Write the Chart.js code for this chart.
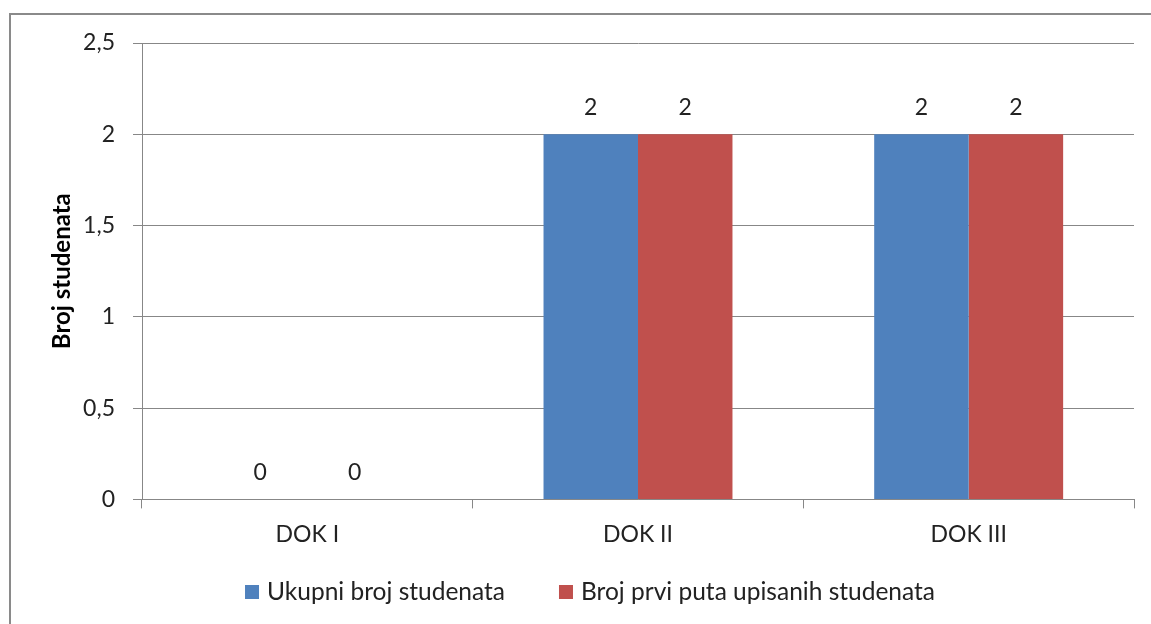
<!DOCTYPE html>
<html>
<head>
<meta charset="utf-8">
<script src="https://cdn.jsdelivr.net/npm/chart.js@4.4.1/dist/chart.umd.min.js"></script>
<style>
    html, body { margin: 0; padding: 0; background: #fff; overflow: hidden; }
    #frame {
        position: absolute; left: 9px; top: 13px; width: 1400px; height: 900px;
        border-left: 2px solid #8a8a8a; border-top: 2px solid #8a8a8a;
    }
    #wrap { position: absolute; left: 0; top: 0; width: 1151px; height: 624px; }
</style>
</head>
<body>
<div id="frame"></div>
<div id="wrap"><canvas id="studentChart"></canvas></div>
<script>
// Data
const categories = ['DOK I', 'DOK II', 'DOK III'];
const seriesNames = ['Ukupni broj studenata', 'Broj prvi puta upisanih studenata'];
const ukupniBroj = [0, 2, 2];
const prviPutaUpisani = [0, 2, 2];
const yTicks = [0, 0.5, 1, 1.5, 2, 2.5];

const fontFamily = 'Lato, "Open Sans", sans-serif';
const fontSize = 23;
const legendFontSize = 24.5;
const gridColor = '#878787';

// Draws the value above every bar (like Excel data labels)
const valueLabels = {
    id: 'valueLabels',
    afterDatasetsDraw(chart) {
        const ctx = chart.ctx;
        ctx.save();
        ctx.font = fontSize + 'px ' + fontFamily;
        ctx.fillStyle = '#222';
        ctx.textAlign = 'center';
        ctx.textBaseline = 'middle';
        chart.data.datasets.forEach((ds, i) => {
            const meta = chart.getDatasetMeta(i);
            meta.data.forEach((bar, j) => {
                ctx.fillText(String(ds.data[j]).replace('.', ','), bar.x, bar.y - 27);
            });
        });
        ctx.restore();
    }
};

// Legend at the bottom with square markers
const bottomLegend = {
    id: 'bottomLegend',
    afterDraw(chart) {
        const ctx = chart.ctx;
        const box = 14, gapText = 8, gapItems = 54, centerX = 590, y = 592;
        ctx.save();
        ctx.font = legendFontSize + 'px ' + fontFamily;
        const widths = chart.data.datasets.map(ds => box + gapText + ctx.measureText(ds.label).width);
        const total = widths.reduce((a, b) => a + b, 0) + gapItems * (widths.length - 1);
        let x = centerX - total / 2;
        chart.data.datasets.forEach((ds, i) => {
            ctx.fillStyle = ds.backgroundColor;
            ctx.fillRect(x, y - box / 2, box, box);
            ctx.fillStyle = '#222';
            ctx.textAlign = 'left';
            ctx.textBaseline = 'middle';
            ctx.fillText(ds.label, x + box + gapText, y);
            x += widths[i] + gapItems;
        });
        ctx.restore();
    }
};

const ctxStudents = document.getElementById('studentChart').getContext('2d');
const studentChart = new Chart(ctxStudents, {
    type: 'bar',
    data: {
        labels: categories,
        datasets: [
            {
                label: seriesNames[0],
                data: ukupniBroj,
                backgroundColor: '#4f81bd',
                categoryPercentage: 2 / 3.5,
                barPercentage: 1
            },
            {
                label: seriesNames[1],
                data: prviPutaUpisani,
                backgroundColor: '#c0504d',
                categoryPercentage: 2 / 3.5,
                barPercentage: 1
            }
        ]
    },
    options: {
        responsive: true,
        maintainAspectRatio: false,
        animation: false,
        layout: {
            padding: { left: 0, right: 17, top: 43, bottom: 64 }
        },
        plugins: {
            legend: { display: false },
            tooltip: { enabled: false }
        },
        scales: {
            x: {
                grid: {
                    offset: true,
                    drawOnChartArea: false,
                    drawTicks: true,
                    tickLength: 9,
                    color: gridColor
                },
                border: { color: gridColor },
                ticks: {
                    color: '#222',
                    padding: 12,
                    font: { family: fontFamily, size: fontSize }
                }
            },
            y: {
                min: 0,
                max: 2.5,
                afterBuildTicks: function(scale) {
                    scale.ticks = yTicks.map(v => ({ value: v }));
                },
                afterFit: function(scale) {
                    scale.width = 142;
                },
                grid: {
                    color: gridColor,
                    tickLength: 9
                },
                border: { color: gridColor },
                ticks: {
                    color: '#222',
                    padding: 18,
                    font: { family: fontFamily, size: fontSize },
                    callback: function(value) {
                        return String(value).replace('.', ',');
                    }
                },
                title: {
                    display: true,
                    text: 'Broj studenata',
                    color: '#000',
                    padding: { top: 48, bottom: 0 },
                    font: { family: fontFamily, size: 24, weight: 'bold' }
                }
            }
        }
    },
    plugins: [valueLabels, bottomLegend]
});
</script>
</body>
</html>
